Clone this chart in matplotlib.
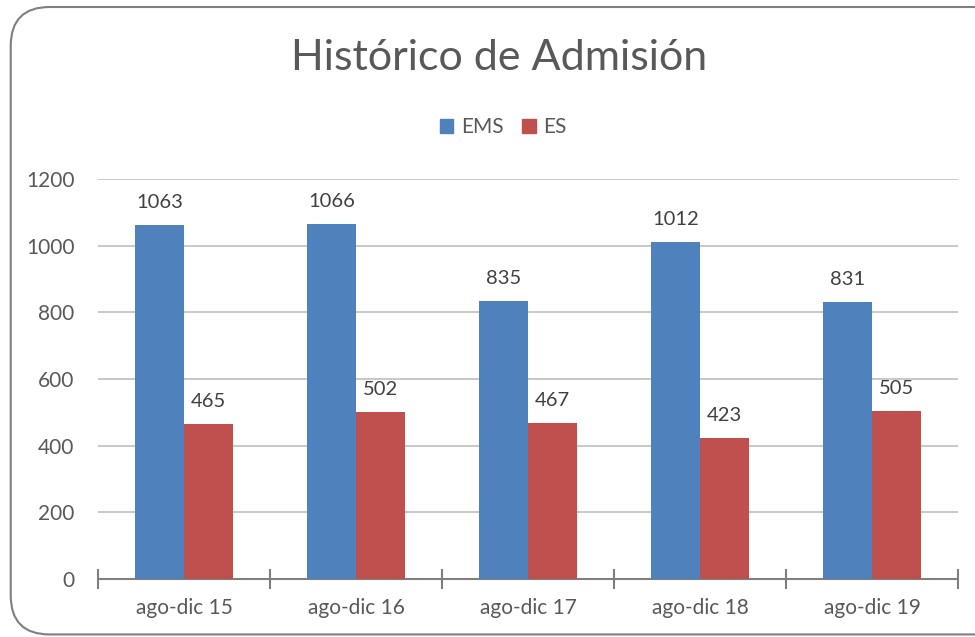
import matplotlib.pyplot as plt
import numpy as np
from matplotlib.patches import FancyBboxPatch, Patch

plt.rcParams['font.family'] = ['Lato', 'DejaVu Sans']

periodos = ['ago-dic 15', 'ago-dic 16', 'ago-dic 17', 'ago-dic 18', 'ago-dic 19']
ems = [1063, 1066, 835, 1012, 831]
es = [465, 502, 467, 423, 505]

azul = '#4F81BD'
rojo = '#C0504D'
gris = '#595959'

fig = plt.figure(figsize=(9.75, 6.37), dpi=100)

# marco redondeado
marco = FancyBboxPatch((0.011, 0.004), 1.2, 0.985, boxstyle='round,pad=0,rounding_size=0.04',
                       transform=fig.transFigure, facecolor='white', edgecolor='#7F7F7F',
                       linewidth=1.5, mutation_aspect=975/637, zorder=-5)
fig.patches.append(marco)

ax = fig.add_axes([0.1005, 0.0911, 0.882, 0.628])
ax.set_facecolor('none')

x = np.arange(len(periodos))
w = 0.285
b1 = ax.bar(x - w/2, ems, w, color=azul, zorder=3)
b2 = ax.bar(x + w/2, es, w, color=rojo, zorder=3)

for barras in (b1, b2):
    for r in barras:
        ax.annotate(f'{int(r.get_height())}', (r.get_x() + r.get_width()/2, r.get_height()),
                    xytext=(0, 10), textcoords='offset points', ha='center', va='bottom',
                    fontsize=14.5, color='#404040')

ax.set_xlim(-0.5, len(periodos) - 0.5)
ax.set_ylim(0, 1200)
ax.set_yticks(range(0, 1201, 200))
ax.yaxis.grid(True, color='#BFBFBF', linewidth=1.2, zorder=0)
ax.set_axisbelow(True)

ax.set_xticks(x)
ax.set_xticklabels(periodos)
ax.set_xticks(np.arange(-0.5, len(periodos)), minor=True)
ax.tick_params(axis='x', which='major', length=0, pad=14, labelsize=15, labelcolor=gris)
ax.tick_params(axis='x', which='minor', length=15, direction='inout', color='#7F7F7F', width=1.5)
ax.tick_params(axis='y', length=0, pad=17, labelsize=15, labelcolor=gris)

for s in ('left', 'right', 'top'):
    ax.spines[s].set_visible(False)
ax.spines['bottom'].set_color('#7F7F7F')
ax.spines['bottom'].set_linewidth(1.5)

fig.text(0.512, 0.909, 'Histórico de Admisión', ha='center', va='center', fontsize=31, color=gris)

fig.legend(handles=[Patch(color=azul, label='EMS'), Patch(color=rojo, label='ES')],
           loc='center', bbox_to_anchor=(0.516, 0.8), ncol=2, frameon=False,
           fontsize=15, labelcolor=gris, handlelength=0.65, handleheight=0.65,
           handletextpad=0.35, columnspacing=0.9)

fig.savefig('out.png', dpi=100)
